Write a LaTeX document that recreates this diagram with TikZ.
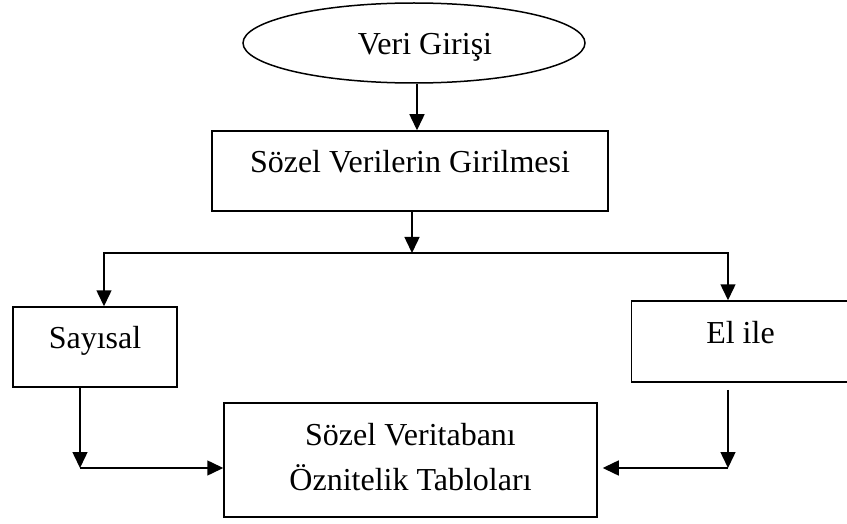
\documentclass[tikz,border=0pt]{standalone}
\usepackage{fontspec}
\setmainfont{Liberation Serif}
\usetikzlibrary{arrows.meta,shapes.geometric}
\begin{document}
\begin{tikzpicture}[x=1pt,y=-1pt,
  every node/.style={font=\fontsize{32}{45}\selectfont, inner sep=0pt},
  box/.style={draw, line width=1.5pt, rectangle, text height=24pt, text depth=21pt},
  arr/.style={line width=1.5pt, -{Triangle[length=16pt,width=15pt]}}]
\useasboundingbox (0,0) rectangle (847,524);
\node[draw, line width=1.5pt, ellipse, minimum width=342pt, minimum height=80pt, text height=24pt, text depth=0pt] (ell) at (414,43) {\hspace*{22pt}Veri Girişi};
\node[box, minimum width=396pt, minimum height=80pt] (b1) at (410,171) {Sözel Verilerin Girilmesi};
\node[box, minimum width=164pt, minimum height=80pt] (say) at (95,347) {Sayısal};
\node[box, minimum width=218pt, minimum height=81pt] (el) at (740.5,341.5) {El ile};
\node[draw, line width=1.5pt, rectangle, minimum width=373pt, minimum height=114pt, align=center, text height=70pt, text depth=10pt] (b3) at (410.5,460) {Sözel Veritabanı\\Öznitelik Tabloları};
\coordinate (br) at (412,253);
\coordinate (c1) at (80,468);
\coordinate (c2) at (728,468);
\draw[arr] ([xshift=3pt]ell.south) -- ([xshift=3pt]ell.south |- b1.north);
\draw[arr] (br |- b1.south) -- (br);
\draw[arr] (br) -| ([xshift=9pt]say.north);
\draw[arr] (br) -| ([xshift=-12.5pt]el.north);
\draw[arr] ([xshift=-15pt]say.south) -- (c1);
\draw[arr] (c1) -- (c1 -| b3.west);
\draw[arr] ([yshift=-7pt]c2 |- el.south) -- (c2);
\draw[arr, shorten >=5pt] (c2) -- (c2 -| b3.east);
\end{tikzpicture}
\end{document}
